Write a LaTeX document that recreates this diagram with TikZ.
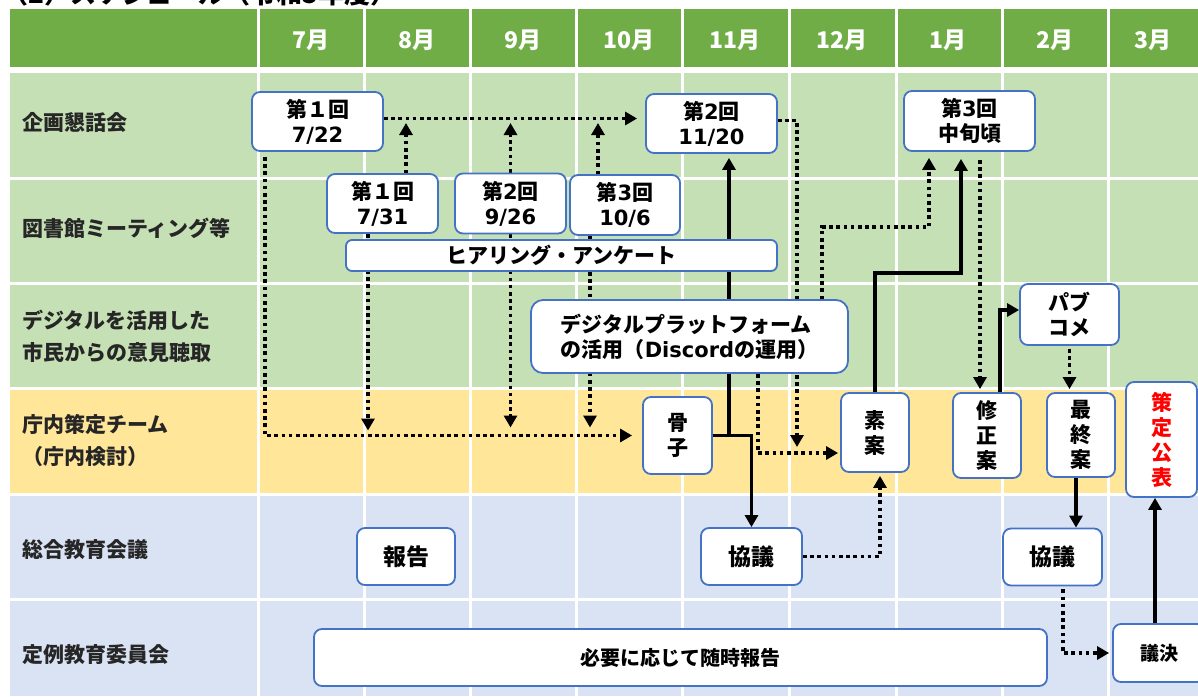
\documentclass[tikz,border=0pt]{standalone}
\usepackage{fontspec}
\setmainfont{Noto Sans CJK JP}
\newfontfamily\jpfont{Noto Sans CJK JP}
\newfontfamily\enfont{DejaVu Sans}
\newcommand\en[1]{{\enfont\bfseries #1}}
\usepackage{tikz}
\usetikzlibrary{arrows.meta}
\pgfdeclarelayer{backbackground}
\pgfdeclarelayer{background}
\pgfsetlayers{backbackground,background,main}

\definecolor{hdgreen}{HTML}{70AD47}
\definecolor{rowgreen}{HTML}{C5E0B4}
\definecolor{rowyellow}{HTML}{FFE699}
\definecolor{rowblue}{HTML}{DAE3F3}
\definecolor{boxblue}{HTML}{4472C4}

\tikzset{
  >={Triangle[length=12pt,width=13pt]},
  ebox/.style={draw=boxblue, line width=1.8pt, fill=white, rounded corners=8pt,
    align=center, inner sep=0pt, font=\jpfont\bfseries\fontsize{21}{25}\selectfont},
  month/.style={text=white, font=\jpfont\bfseries\fontsize{23}{23}\selectfont},
  rowlab/.style={anchor=west, align=left, inner sep=0pt, text=black!85,
    font=\jpfont\bfseries\fontsize{21}{32}\selectfont},
  dotline/.style={line width=3.6pt, dash pattern=on 3.6pt off 3.6pt},
  solidline/.style={line width=3.6pt}
}

\begin{document}
\begin{tikzpicture}[x=1pt,y=-1pt]
\useasboundingbox (0,0) rectangle (1198,696);
\clip (0,0) rectangle (1198,696);

% table
\begin{pgfonlayer}{backbackground}
\fill[white] (0,0) rectangle (1198,696);
\fill[hdgreen] (10,9) rectangle (1198,67);
\fill[rowgreen] (10,73) rectangle (1198,388);
\fill[rowyellow] (10,388) rectangle (1198,494);
\fill[rowblue] (10,494) rectangle (1198,696);
\foreach \y in {178,283,388,494,599}
  \draw[white,line width=3pt] (10,\y) -- (1198,\y);
\foreach \x in {258,364,470,576,682,789,896,1002,1108}
  \draw[white,line width=3pt] (\x,9) -- (\x,696);
\end{pgfonlayer}

\node[anchor=base west, inner sep=0pt, font=\jpfont\bfseries\fontsize{26}{26}\selectfont]
  (title) at (2,3) {（2）スケジュール（令和5年度）};

% months
\foreach \x/\m in {311/7,417/8,523/9,629/10,735/11,842/12,948/1,1055/2,1153/3}
  \node[month] (mon\m) at (\x,40) {\m 月};

% row labels
\node[rowlab] (lab1) at (22,122) {企画懇話会};
\node[rowlab] (lab2) at (22,228) {図書館ミーティング等};
\node[rowlab] (lab3) at (22,336) {デジタルを活用した\\市民からの意見聴取};
\node[rowlab] (lab4) at (22,441) {庁内策定チーム\\（庁内検討）};
\node[rowlab] (lab5) at (22,550) {総合教育会議};
\node[rowlab] (lab6) at (22,655) {定例教育委員会};

% boxes
\node[ebox, minimum width=131pt, minimum height=59pt] (m1) at (317.5,121.5) {第１回\\\en{7/22}};
\node[ebox, minimum width=131pt, minimum height=59pt] (m2) at (711.5,123.5) {第\en{2}回\\\en{11/20}};
\node[ebox, minimum width=131pt, minimum height=60pt] (m3) at (969.5,121) {第\en{3}回\\中旬頃};
\node[ebox, minimum width=111pt, minimum height=59pt] (l1) at (382.5,203.5) {第１回\\\en{7/31}};
\node[ebox, minimum width=111pt, minimum height=60pt] (l2) at (510.5,203.5) {第\en{2}回\\\en{9/26}};
\node[ebox, minimum width=110pt, minimum height=60pt] (l3) at (625,205) {第\en{3}回\\\en{10/6}};
\node[ebox, minimum width=431pt, minimum height=31pt, rounded corners=6pt] (hear) at (561.5,255.5) {ヒアリング・アンケート};
\node[ebox, minimum width=317pt, minimum height=73pt, rounded corners=12pt, align=left] (dig) at (689.5,336.5)
  {デジタルプラットフォーム\\の活用（\en{Discord}の運用）};
\node[ebox, minimum width=99pt, minimum height=61pt] (pub) at (1069.5,314.5) {パブ\\コメ};
\node[ebox, minimum width=69pt, minimum height=77pt] (kos) at (677.5,435.5) {骨\\子};
\node[ebox, minimum width=68pt, minimum height=79pt] (soan) at (875,432.5) {素\\案};
\node[ebox, minimum width=68pt, minimum height=85pt] (shu) at (987,435.5) {修\\正\\案};
\node[ebox, minimum width=68pt, minimum height=84pt] (sai) at (1081,435) {最\\終\\案};
\node[ebox, minimum width=71pt, minimum height=115pt, text=red] (koh) at (1161.5,439.5) {策\\定\\公\\表};
\node[ebox, minimum width=98pt, minimum height=57pt, font=\jpfont\bfseries\fontsize{23}{25}\selectfont] (hok) at (406,556.5) {報告};
\node[ebox, minimum width=101pt, minimum height=57pt, font=\jpfont\bfseries\fontsize{23}{25}\selectfont] (kyo1) at (751.5,556.5) {協議};
\node[ebox, minimum width=99pt, minimum height=57pt, font=\jpfont\bfseries\fontsize{23}{25}\selectfont] (kyo2) at (1052.5,557) {協議};
\node[ebox, minimum width=733pt, minimum height=57pt, font=\jpfont\bfseries\fontsize{20}{25}\selectfont] (zuiji) at (680.5,657.5) {必要に応じて随時報告};
\node[ebox, minimum width=92pt, minimum height=58pt, font=\jpfont\bfseries\fontsize{19}{25}\selectfont] (giketsu) at (1159,653) {議決};

% connectors
\begin{pgfonlayer}{background}
\coordinate (tl) at (0,123);
\coordinate (dj) at (797,447);
\coordinate (bd1) at (929,227);
\coordinate (bd2) at (961,273);

\draw[dotline,->,shorten >=8pt] ([yshift=3pt]m1.east) -- ([yshift=3pt]m1.east -| m2.west);
\draw[dotline,->] ([xshift=23.5pt]l1.north) -- ([xshift=23.5pt]l1.north |- tl);
\draw[dotline,->] (l2.north) -- (l2.north |- tl);
\draw[dotline,->] ([xshift=-27pt]l3.north) -- ([xshift=-27pt]l3.north |- tl);

\draw[dotline,->,shorten <=5pt,shorten >=10pt] ([xshift=-52.5pt]m1.south) |- (kos.west);
\draw[dotline,->,shorten >=5pt] ([xshift=-14.5pt]l1.south) -- ([xshift=-14.5pt]l1.south |- kos.west);
\draw[dotline,->,shorten >=8pt] (l2.south) -- (l2.south |- kos.west);
\draw[dotline,->,shorten >=8pt] ([xshift=-35pt]l3.south) -- ([xshift=-35pt]l3.south |- kos.west);

\draw[solidline,->,shorten >=4pt] (kos.east) -| ([xshift=17.5pt]m2.south);
\draw[solidline,->] (kos.east) -| (kyo1.north);

\draw[dotline,->] ([yshift=3pt]m2.east) -| (dj);
\draw[dotline,->,shorten >=2pt] ([xshift=68.5pt]dig.south) |- ([yshift=-20.5pt]soan.west);
\draw[dotline,->,shorten >=6pt] ([xshift=132.5pt]dig.north) |- (bd1) -- (bd1 |- m3.south);
\draw[solidline,->,shorten >=7pt] (soan.north) |- (bd2) -- (bd2 |- m3.south);

\draw[dotline,->,shorten <=8pt,shorten >=3pt] ([xshift=10.5pt]m3.south) -- ([xshift=10.5pt]m3.south |- shu.north);
\draw[solidline,->] ([xshift=13pt]shu.north) |- ([yshift=4.5pt]pub.west);
\draw[dotline,->,shorten <=3pt,shorten >=3pt] (pub.south) -- (pub.south |- sai.north);
\draw[solidline,->] ([xshift=-5pt]sai.south) -- ([xshift=-5pt]sai.south |- kyo2.north);

\draw[dotline,->,shorten >=3pt] (kyo1.east) -| ([xshift=5pt]soan.south);
\draw[dotline,->,shorten <=3pt,shorten >=3pt] ([xshift=10.5pt]kyo2.south) |- (giketsu.west);
\draw[solidline,->] ([xshift=-4pt]giketsu.north) -- ([xshift=-4pt]giketsu.north |- koh.south);
\end{pgfonlayer}

\end{tikzpicture}
\end{document}
